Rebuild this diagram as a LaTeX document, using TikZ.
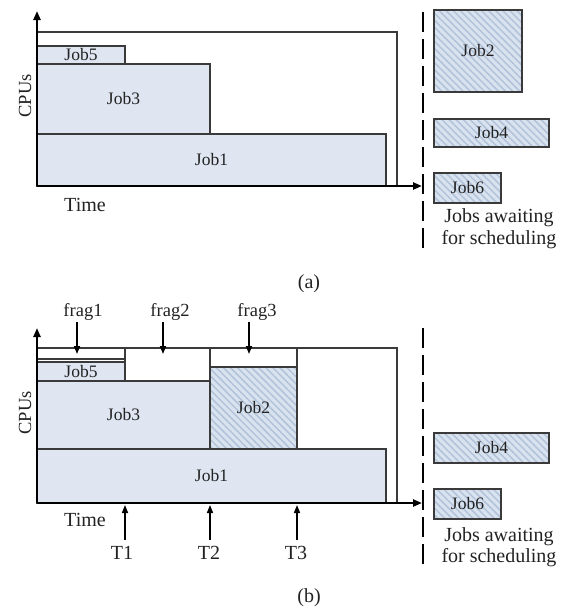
\documentclass[tikz,border=0pt]{standalone}
\usepackage{fontspec}
\setmainfont{Liberation Serif}
\usetikzlibrary{patterns.meta,arrows.meta}
\definecolor{jobfill}{HTML}{DFE6F2}
\definecolor{hatchfill}{HTML}{D9E3F0}
\definecolor{hatchline}{HTML}{B2C3D9}
\definecolor{edge}{HTML}{3A3A3A}
\definecolor{ink}{HTML}{222222}
\tikzset{
  jobbase/.style={draw=edge, line width=1.4pt, anchor=north west, inner sep=0pt, outer sep=0pt,
    text=ink, font=\fontsize{17.5}{17.5}\selectfont},
  jobbox/.style={jobbase, fill=jobfill},
  waitbox/.style={jobbase, preaction={fill=hatchfill},
    pattern={Lines[angle=-45,distance=5pt,line width=1.5pt]}, pattern color=hatchline},
  capline/.style={draw=edge, line width=1.4pt},
  axis/.style={draw=black, line width=2.2pt, -{Triangle[length=9pt,width=7pt]}},
  sep/.style={draw=black, line width=2.8pt, dash pattern=on 20pt off 7pt},
  ptr/.style={draw=black, line width=1.5pt, -{Triangle[length=8pt,width=6pt]}},
  lbl/.style={text=ink, font=\fontsize{20}{22}\selectfont, inner sep=0pt},
  smlbl/.style={text=ink, font=\fontsize{18.5}{20}\selectfont, inner sep=0pt},
}
\begin{document}
\begin{tikzpicture}[x=1pt,y=-1pt]
\useasboundingbox (0,0) rectangle (565,611);
% ---------------- panel (a)
\coordinate (oa) at (37,186);
\coordinate (ya) at (37,11);
\coordinate (xa) at (422,186);
\coordinate (capa1) at (37,32);
\coordinate (capa2) at (397,32);
\coordinate (capa3) at (397,186);
\node[jobbox, minimum width=349pt, minimum height=52pt] (a1) at (37,134) {Job1};
\node[jobbox, minimum width=173pt, minimum height=70pt] (a3) at (37,64) {Job3};
\node[jobbox, minimum width=88pt, minimum height=18pt] (a5) at (37,46) {Job5};
\draw[capline] (capa1) -- (capa2) -- (capa3);
\draw[axis] (oa) -- (ya);
\draw[axis] (oa) -- (xa);
\node[lbl] (timea) at (85,205) {Time};
\node[smlbl, rotate=90] (cpua) at (25,96) {CPUs};
\node[waitbox, minimum width=88pt, minimum height=82pt] (a2) at (434,10) {Job2};
\node[waitbox, minimum width=115pt, minimum height=28pt] (a4) at (434,119) {Job4};
\node[waitbox, minimum width=67pt, minimum height=30pt] (a6) at (434,173) {Job6};
\coordinate (da1) at (423,12);
\coordinate (da2) at (423,250);
\draw[sep] (da1) -- (da2);
\node[lbl] (wa1) at (499,218) {Jobs awaiting};
\node[lbl] (wa2) at (499,240) {for scheduling};
\node[lbl] (capta) at (309,284) {(a)};
% ---------------- panel (b)
\coordinate (ob) at (37,503);
\coordinate (yb) at (37,328);
\coordinate (xb) at (422,503);
\coordinate (capb1) at (37,348);
\coordinate (capb2) at (397,348);
\coordinate (capb3) at (397,503);
\node[jobbox, minimum width=349pt, minimum height=54pt] (b1) at (37,449) {Job1};
\node[jobbox, minimum width=173pt, minimum height=68pt] (b3) at (37,381) {Job3};
\node[jobbox, minimum width=88pt, minimum height=19pt] (b5) at (37,362) {Job5};
\node[waitbox, minimum width=87pt, minimum height=82pt] (b2) at (210,367) {Job2};
\coordinate (f1l) at (37,359);
\coordinate (f1r) at (125,359);
\draw[capline] (f1l) -- (f1r);
\coordinate (v1t) at (125,348);
\draw[capline] (v1t) -- (b5.north east);
\coordinate (v2t) at (210,348);
\coordinate (v2b) at (210,381);
\draw[capline] (v2t) -- (v2b);
\coordinate (v3t) at (297,348);
\draw[capline] (v3t) -- (b2.north east);
\draw[capline] (capb1) -- (capb2) -- (capb3);
\draw[axis] (ob) -- (yb);
\draw[axis] (ob) -- (xb);
\node[lbl] (timeb) at (85,520) {Time};
\node[smlbl, rotate=90] (cpub) at (25,413) {CPUs};
% frag arrows
\node[smlbl] (fr1) at (83,312) {frag1};
\node[smlbl] (fr2) at (170,312) {frag2};
\node[smlbl] (fr3) at (257,312) {frag3};
\coordinate (fr1s) at (77,322);
\coordinate (fr2s) at (163,322);
\coordinate (fr3s) at (249,322);
\coordinate (fr1e) at (77,354);
\coordinate (fr2e) at (163,354);
\coordinate (fr3e) at (249,354);
\draw[ptr] (fr1s) -- (fr1e);
\draw[ptr] (fr2s) -- (fr2e);
\draw[ptr] (fr3s) -- (fr3e);
% time arrows
\node[lbl] (t1) at (122,553) {T1};
\node[lbl] (t2) at (209,553) {T2};
\node[lbl] (t3) at (296,553) {T3};
\coordinate (t1s) at (125,540);
\coordinate (t2s) at (210,540);
\coordinate (t3s) at (297,540);
\coordinate (t1e) at (125,505);
\coordinate (t2e) at (210,505);
\coordinate (t3e) at (297,505);
\draw[ptr] (t1s) -- (t1e);
\draw[ptr] (t2s) -- (t2e);
\draw[ptr] (t3s) -- (t3e);
% waiting (b)
\node[waitbox, minimum width=115pt, minimum height=30pt] (b4) at (434,433) {Job4};
\node[waitbox, minimum width=67pt, minimum height=30pt] (b6) at (434,489) {Job6};
\coordinate (db1) at (423,328);
\coordinate (db2) at (423,567);
\draw[sep] (db1) -- (db2);
\node[lbl] (wb1) at (499,537) {Jobs awaiting};
\node[lbl] (wb2) at (499,558) {for scheduling};
\node[lbl] (captb) at (309,598) {(b)};
\end{tikzpicture}
\end{document}
